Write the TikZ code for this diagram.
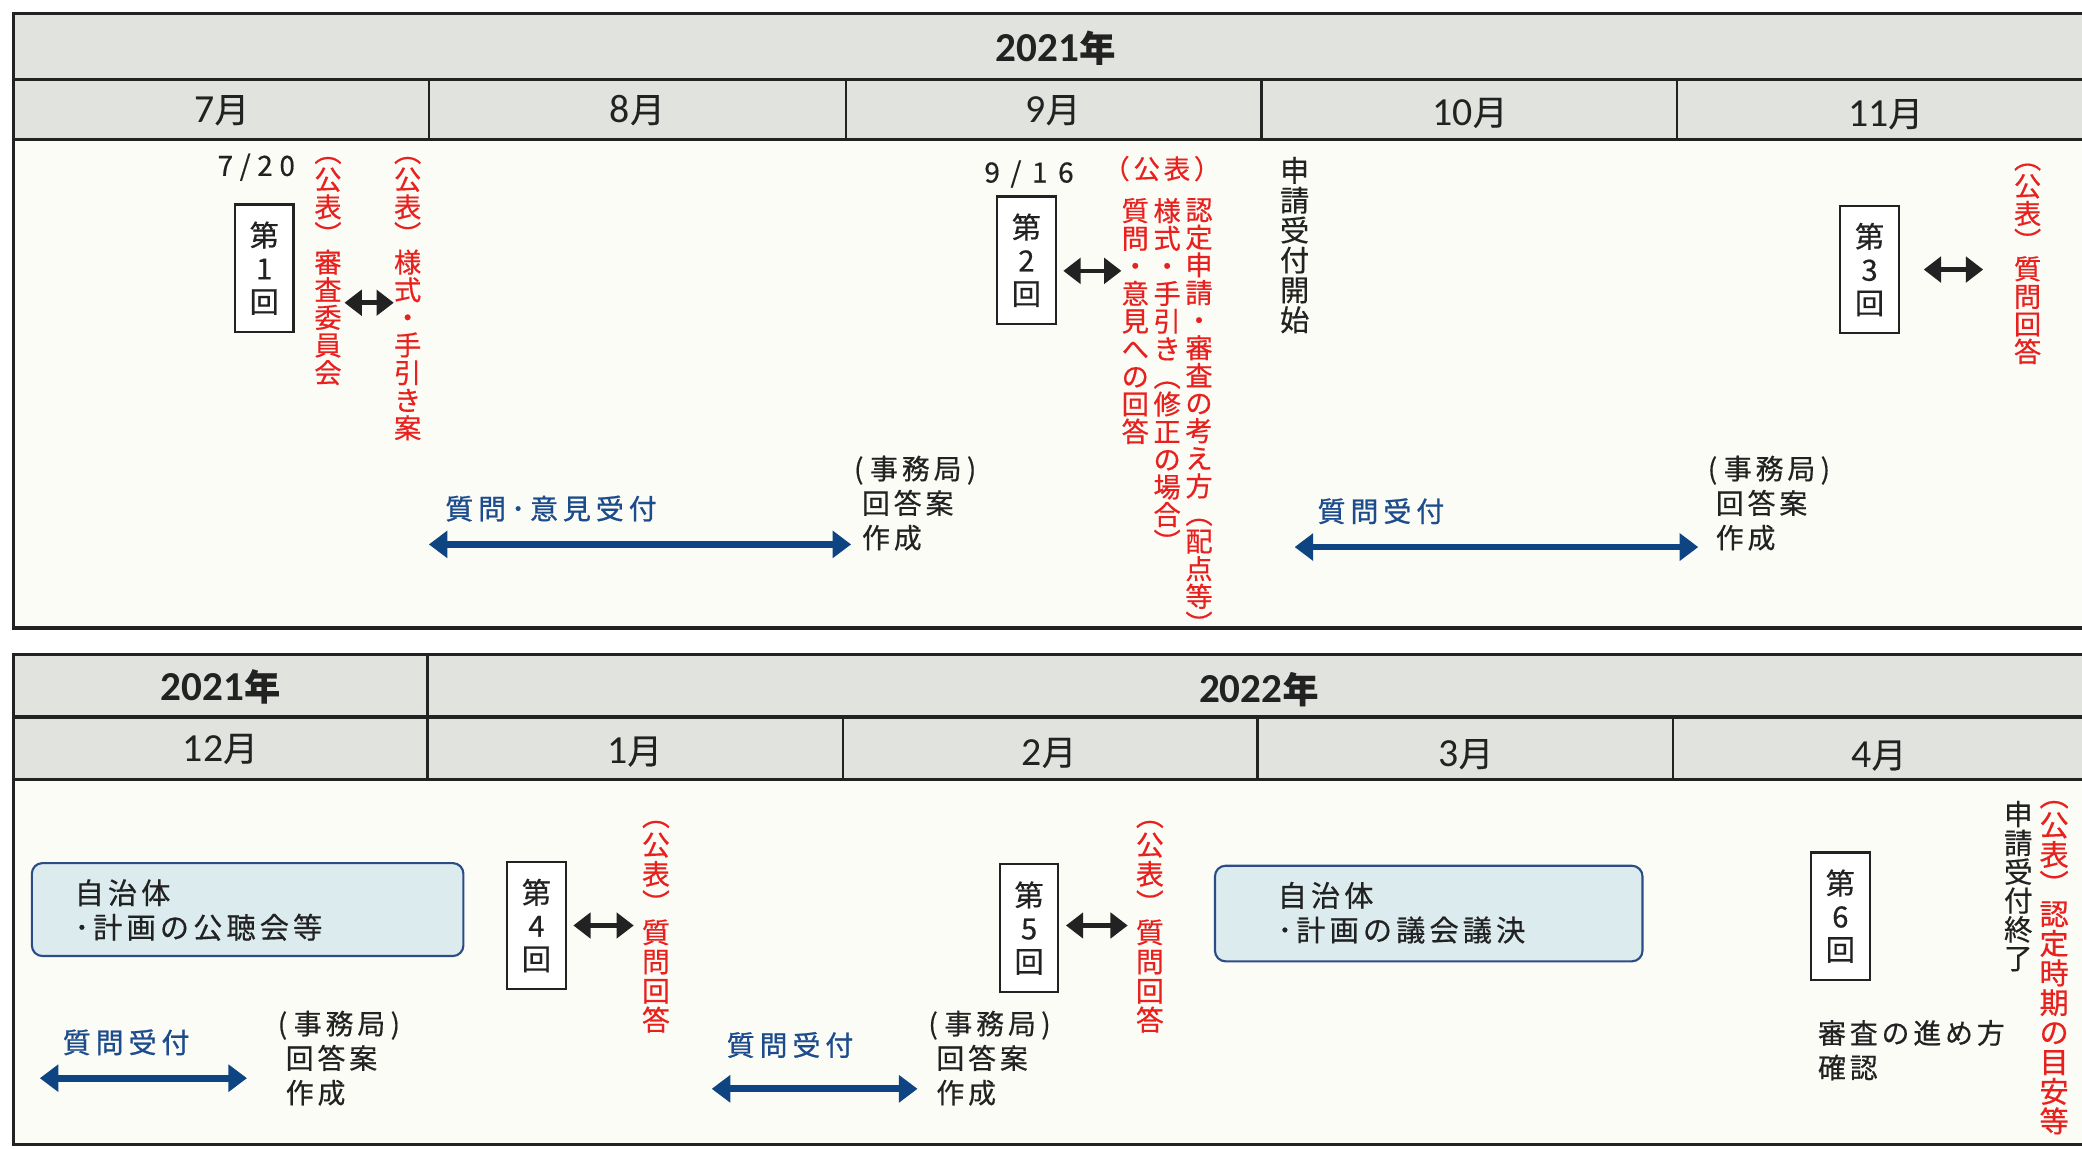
\documentclass[tikz,border=0pt]{standalone}
\usepackage{fontspec}
\setmainfont{Noto Sans CJK JP}[FakeBold=0.5]
\newfontfamily\spcjk[LetterSpace=14,FakeBold=0.5]{Noto Sans CJK JP}
\newfontfamily\spblue[LetterSpace=18,FakeBold=0.9]{Noto Sans CJK JP}
\newfontfamily\latn{Carlito}
\usetikzlibrary{arrows.meta}
\definecolor{hdr}{HTML}{E0E3DE}
\definecolor{bgc}{HTML}{FCFCF7}
\definecolor{kred}{HTML}{E8201E}
\definecolor{navy}{HTML}{0F4483}
\definecolor{ntext}{HTML}{1D4C8C}
\definecolor{bfill}{HTML}{DCECEE}
\definecolor{bline}{HTML}{2C4C86}
\definecolor{ink}{HTML}{222222}
\makeatletter
\newcommand\tate[1]{\vbox{\@tfor\tt@c:=#1\do{\hbox to 1em{\hss\tt@c\hss}}}}
\makeatother
\newcommand\yrtxt[1]{{\latn\bfseries\fontsize{31}{32}\selectfont #1}年}
\newcommand\mtxt[1]{{\latn\fontsize{30}{31}\selectfont #1}月}
\begin{document}
\begin{tikzpicture}[x=1pt,y=-1pt,
  frame/.style={draw=ink,line width=2.4pt},
  thinframe/.style={draw=ink,line width=1.8pt},
  yr/.style={font=\fontsize{27}{29}\selectfont\bfseries,text=ink,inner sep=0},
  mon/.style={font=\fontsize{26}{28}\selectfont,text=ink,inner sep=0},
  kai/.style={draw=ink,line width=1.6pt,fill=white,minimum width=44pt,minimum height=96pt,inner sep=0,align=center,font=\fontsize{22}{25}\selectfont,text=ink},
  vt/.style={anchor=north,inner sep=0,font=\fontsize{20.5}{20.8}\selectfont},
  darr/.style={draw=ink,line width=3.4pt,{Triangle[width=19pt,length=13pt]}-{Triangle[width=19pt,length=13pt]}},
  barr/.style={draw=navy,line width=5pt,{Triangle[width=20pt,length=14pt]}-{Triangle[width=20pt,length=14pt]}},
  blab/.style={text=ntext,font=\spblue\fontsize{21}{23}\selectfont,inner sep=0},
  jimu/.style={anchor=north west,align=left,text=ink,inner sep=0,font=\spcjk\fontsize{21}{26}\selectfont},
  rbox/.style={draw=bline,line width=1.6pt,fill=bfill,rounded corners=8pt},
  btxt/.style={anchor=north west,align=left,text=ink,inner sep=0,font=\spcjk\fontsize{22}{26}\selectfont}
]
\clip (0,0) rectangle (1568,865);
\fill[white] (0,0) rectangle (1568,865);
% ---------- top table ----------
\fill[bgc] (10,105) rectangle (1580,473);
\fill[hdr] (10,10) rectangle (1580,105);
\draw[frame] (1580,10) -- (10,10) -- (10,473) -- (1580,473);
\draw[frame] (10,60) -- (1580,60) (10,105) -- (1580,105);
\foreach \x in {323,637,950,1263} \draw[thinframe] (\x,60) -- (\x,105);
\node[yr] (ya) at (795,36) {\yrtxt{2021}};
\node[mon] (m7) at (167,83) {\mtxt{7}};
\node[mon] (m8) at (480,83) {\mtxt{8}};
\node[mon] (m9) at (793,83) {\mtxt{9}};
\node[mon] (m10) at (1107,85) {\mtxt{10}};
\node[mon] (m11) at (1420,86) {\mtxt{11}};
% 7/20
\node[text=ink,font=\fontsize{21}{22}\selectfont,inner sep=0] (d1) at (193,126) {7\hspace{5pt}/\hspace{5pt}2\hspace{5pt}0};
\node[kai] (k1) at (199,202) {第\\1\\回};
\node[vt,text=kred] (r1) at (247,118) {\tate{︵公表︶審査委員会}};
\node[vt,text=kred] (r2) at (307,118) {\tate{︵公表︶様式・手引き案}};
\coordinate (y1) at (0,228);
\draw[darr,shorten <=2pt] (r1.east |- y1) -- (r2.west |- y1);
% question period 1
\coordinate (b1l) at (323,410);
\coordinate (b1r) at (641,410);
\draw[barr] (b1l) -- (b1r);
\node[blab] (q1) at (415,383) {質問･意見受付};
\node[jimu] (j1) at (643,343) {(\hspace{5pt}事務局\hspace{4pt})\\\hspace{6pt}回答案\\\hspace{6pt}作成};
% 9/16
\node[text=ink,font=\fontsize{21}{22}\selectfont,inner sep=0] (d2) at (775,131) {9\hspace{8pt}/\hspace{8pt}1\hspace{8pt}6};
\node[kai] (k2) at (773,196) {第\\2\\回};
\node[text=kred,font=\spcjk\fontsize{20}{21}\selectfont,inner sep=0] (p2) at (875,127) {（公表）};
\node[vt,text=kred] (c1) at (903,149) {\tate{認定申請・審査の考え方︵配点等︶}};
\node[vt,text=kred] (c2) at (879,149) {\tate{様式・手引き︵修正の場合︶}};
\node[vt,text=kred] (c3) at (855,149) {\tate{質問・意見への回答}};
\coordinate (y2) at (0,204);
\draw[darr,shorten <=5pt] (k2.east |- y2) -- (c3.west |- y2);
\node[vt,text=ink,font=\fontsize{22}{22.5}\selectfont] (s1) at (975,118) {\tate{申請受付開始}};
% question period 2
\coordinate (b2l) at (975,412);
\coordinate (b2r) at (1279,412);
\draw[barr] (b2l) -- (b2r);
\node[blab] (q2) at (1040,385) {質問受付};
\node[jimu] (j2) at (1286,343) {(\hspace{5pt}事務局\hspace{4pt})\\\hspace{6pt}回答案\\\hspace{6pt}作成};
\node[kai] (k3) at (1408,203) {第\\3\\回};
\node[vt,text=kred] (r3) at (1527,123) {\tate{︵公表︶質問回答}};
\coordinate (y3) at (0,203);
\draw[darr,shorten <=18pt,shorten >=23pt] (k3.east |- y3) -- (r3.west |- y3);
% ---------- bottom table ----------
\fill[bgc] (10,587) rectangle (1580,862);
\fill[hdr] (10,493) rectangle (1580,587);
\draw[frame] (1580,493) -- (10,493) -- (10,862) -- (1580,862);
\draw[frame] (10,540) -- (1580,540) (10,587) -- (1580,587);
\draw[thinframe] (322,493) -- (322,540);
\foreach \x in {322,635,947,1260} \draw[thinframe] (\x,540) -- (\x,587);
\node[yr] (yb) at (166,517) {\yrtxt{2021}};
\node[yr] (yc) at (948,519) {\yrtxt{2022}};
\node[mon] (m12) at (166,564) {\mtxt{12}};
\node[mon] (m1) at (478,566) {\mtxt{1}};
\node[mon] (m2) at (790,567) {\mtxt{2}};
\node[mon] (m3) at (1104,568) {\mtxt{3}};
\node[mon] (m4) at (1415,569) {\mtxt{4}};
% box 1
\draw[rbox] (24,650) rectangle (349,720);
\node[btxt] (g1) at (56,662) {自治体\\･計画の公聴会等};
\coordinate (b3l) at (30,812);
\coordinate (b3r) at (186,812);
\draw[barr] (b3l) -- (b3r);
\node[blab] (q3) at (95,785) {質問受付};
\node[jimu] (j3) at (209,761) {(\hspace{5pt}事務局\hspace{4pt})\\\hspace{6pt}回答案\\\hspace{6pt}作成};
\node[kai] (k4) at (404,697) {第\\4\\回};
\node[vt,text=kred,font=\fontsize{21}{22}\selectfont] (r4) at (494,618) {\tate{︵公表︶質問回答}};
\coordinate (y4) at (0,697);
\draw[darr,shorten <=5pt,shorten >=6pt] (k4.east |- y4) -- (r4.west |- y4);
\coordinate (b4l) at (536,820);
\coordinate (b4r) at (691,820);
\draw[barr] (b4l) -- (b4r);
\node[blab] (q4) at (595,787) {質問受付};
\node[jimu] (j4) at (699,761) {(\hspace{5pt}事務局\hspace{4pt})\\\hspace{6pt}回答案\\\hspace{6pt}作成};
\node[kai] (k5) at (775,699) {第\\5\\回};
\node[vt,text=kred,font=\fontsize{21}{22}\selectfont] (r5) at (866,618) {\tate{︵公表︶質問回答}};
\coordinate (y5) at (0,697);
\draw[darr,shorten <=5pt,shorten >=6pt] (k5.east |- y5) -- (r5.west |- y5);
\draw[rbox] (915,652) rectangle (1237,724);
\node[btxt] (g2) at (962,664) {自治体\\･計画の議会議決};
\node[kai] (k6) at (1386,690) {第\\6\\回};
\node[btxt,font=\spcjk\fontsize{21}{26}\selectfont] (t6) at (1369,768) {審査の進め方\\確認};
\node[vt,text=ink,font=\fontsize{21.5}{21.7}\selectfont] (s2) at (1520,603) {\tate{申請受付終了}};
\node[vt,text=kred,font=\fontsize{22}{22.3}\selectfont] (r6) at (1547,603) {\tate{︵公表︶認定時期の目安等}};
\end{tikzpicture}
\end{document}
